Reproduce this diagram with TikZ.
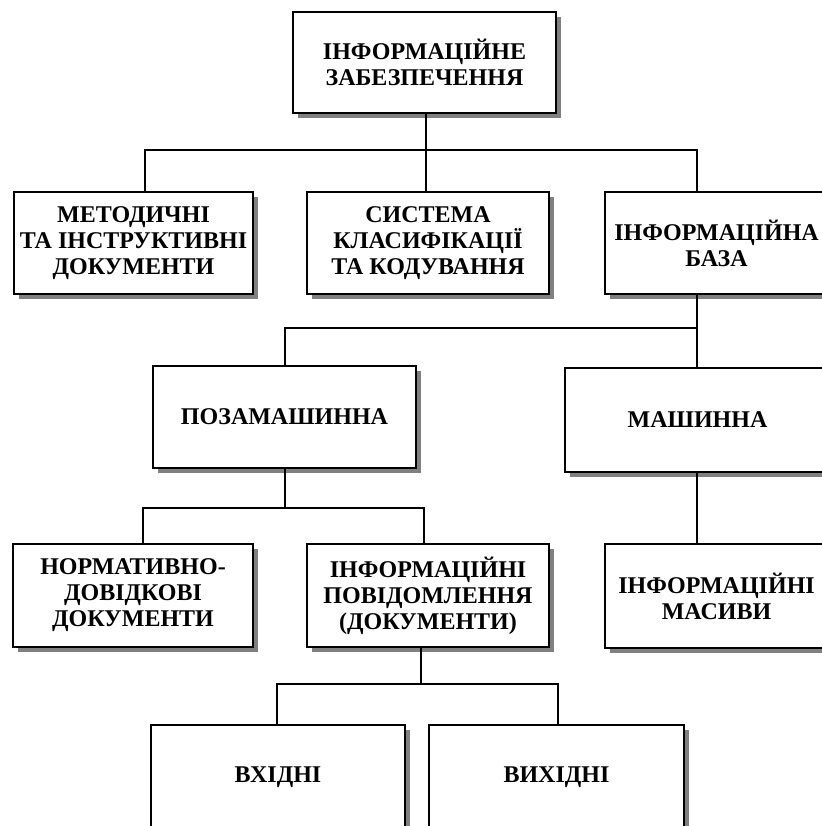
\documentclass[tikz,border=0pt]{standalone}
\usepackage{fontspec}
\setmainfont{Liberation Serif}
\usepackage{tikz}
\usetikzlibrary{shadows}

\begin{document}
\begin{tikzpicture}[x=0.75pt,y=-0.75pt,
    box/.style={draw,line width=1.4pt,fill=white,align=center,inner sep=0pt,
      font=\fontsize{18}{19.5}\selectfont\bfseries,
      drop shadow={shadow xshift=3.5pt,shadow yshift=-3.5pt,fill=black!50,opacity=1}},
    link/.style={line width=1pt}]
      \useasboundingbox (0,0) rectangle (822,826);
      \node[box,minimum width=197pt,minimum height=76pt] (zab) at (424.5,62.5)
        {ІНФОРМАЦІЙНЕ\\ЗАБЕЗПЕЧЕННЯ};
      \node[box,minimum width=179pt,minimum height=76.5pt] (met) at (133.5,243)
        {МЕТОДИЧНІ\\ТА ІНСТРУКТИВНІ\\ДОКУМЕНТИ};
      \node[box,minimum width=181.5pt,minimum height=76.5pt] (sys) at (428,243)
        {СИСТЕМА\\КЛАСИФІКАЦІЇ\\ТА КОДУВАННЯ};
      \node[box,minimum width=167pt,minimum height=76.5pt] (baza) at (716.5,243)
        {ІНФОРМАЦІЙНА\\БАЗА};
      \node[box,minimum width=197pt,minimum height=76.5pt] (pozam) at (284.5,417)
        {ПОЗАМАШИННА};
      \node[box,minimum width=199pt,minimum height=78pt] (mash) at (697.5,420)
        {МАШИННА};
      \node[box,minimum width=180pt,minimum height=77pt] (norm) at (133,595.5)
        {НОРМАТИВНО-\\ДОВІДКОВІ\\ДОКУМЕНТИ};
      \node[box,minimum width=181.5pt,minimum height=77pt] (povid) at (428,595.5)
        {ІНФОРМАЦІЙНІ\\ПОВІДОМЛЕННЯ\\(ДОКУМЕНТИ)};
      \node[box,minimum width=167pt,minimum height=78pt] (masyv) at (716.5,596)
        {ІНФОРМАЦІЙНІ\\МАСИВИ};
      \node[box,minimum width=190.5pt,minimum height=78pt] (vkh) at (278,777)
        {ВХІДНІ};
      \node[box,minimum width=191pt,minimum height=78pt] (vykh) at (556.5,777)
        {ВИХІДНІ};
      % connectors
      \coordinate (a1) at (145,150);
      \coordinate (a2) at (426,150);
      \coordinate (a3) at (697,150);
      \draw[link] (zab.south -| a2) -- (a2);
      \draw[link] (a1 |- met.north) -- (a1) -- (a3) -- (a3 |- baza.north);
      \draw[link] (a2) -- (a2 |- sys.north);
      \coordinate (b1) at (285,328);
      \coordinate (b2) at (697,328);
      \draw[link] (baza.south -| b2) -- (b2 |- mash.north);
      \draw[link] (b2) -- (b1) -- (b1 |- pozam.north);
      \draw[link] (mash.south -| b2) -- (b2 |- masyv.north);
      \coordinate (c0) at (285,508);
      \coordinate (c1) at (143,508);
      \coordinate (c2) at (424,508);
      \draw[link] (pozam.south -| c0) -- (c0);
      \draw[link] (c1 |- norm.north) -- (c1) -- (c2) -- (c2 |- povid.north);
      \coordinate (d0) at (421,684);
      \coordinate (d1) at (277,684);
      \coordinate (d2) at (558,684);
      \draw[link] (povid.south -| d0) -- (d0);
      \draw[link] (d1 |- vkh.north) -- (d1) -- (d2) -- (d2 |- vykh.north);
    \end{tikzpicture}
\end{document}
